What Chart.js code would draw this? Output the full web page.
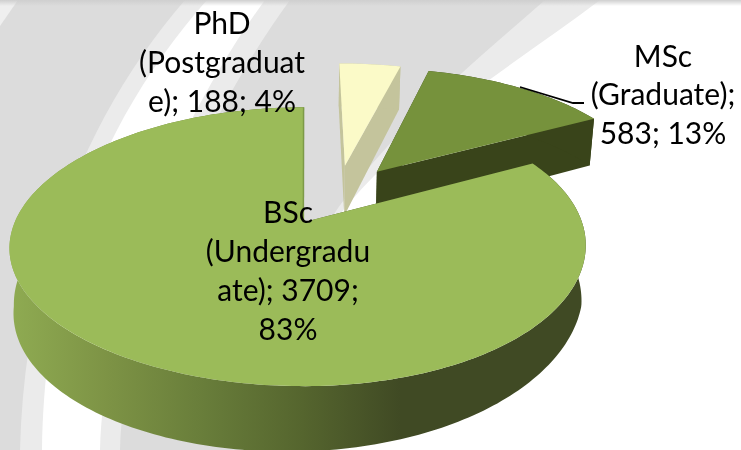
<!DOCTYPE html>
<html>
<head>
<meta charset="utf-8">
<title>Students by degree</title>
<script src="https://cdn.jsdelivr.net/npm/chart.js@4"></script>
<style>
  html, body { margin: 0; padding: 0; background: #fff; }
  #wrap { position: relative; width: 741px; height: 450px; overflow: hidden; }
  #wrap svg, #wrap canvas { position: absolute; left: 0; top: 0; }
</style>
</head>
<body>
<div id="wrap">
  <!-- slide background swooshes -->
  <svg width="741" height="450" viewBox="0 0 741 450">
    <defs>
      <linearGradient id="topStrip" x1="0" y1="0" x2="0" y2="1">
        <stop offset="0" stop-color="#cfcfcf"/><stop offset="1" stop-color="#cfcfcf" stop-opacity="0"/>
      </linearGradient>
    </defs>
    <rect width="741" height="450" fill="#fff"/>
    <path d="M0,0 L207,0 C 110,110 45,250 42,450 L0,450 Z" fill="#ebebeb"/>
    <path d="M0,0 L185,0 C 90,110 25,260 20,450 L0,450 Z" fill="#dcdcdc"/>
    <path d="M0,0 L18,0 L0,26 Z" fill="#efefef"/>
    <path d="M265,0 L600,0 C 470,100 220,230 290,450 L100,450 C 105,300 170,130 265,0 Z" fill="#ebebeb"/>
    <path d="M290,0 L545,0 C 420,110 250,240 270,450 L120,450 C 125,310 195,130 290,0 Z" fill="#dcdcdc"/>
    <rect width="741" height="6" fill="url(#topStrip)"/>
  </svg>
  <canvas id="chart" width="741" height="450"></canvas>
</div>
<script>
var categories = ['PhD (Postgraduate)', 'MSc (Graduate)', 'BSc (Undergraduate)'];
var values = [188, 583, 3709];
var percents = [4, 13, 83];
var labelLines = [
  ['PhD', '(Postgraduat', 'e); ' + values[0] + '; ' + percents[0] + '%'],
  ['MSc', '(Graduate);', values[1] + '; ' + percents[1] + '%'],
  ['BSc', '(Undergradu', 'ate); ' + values[2] + ';', percents[2] + '%']
];
var topColors = ['#fbfac8', '#76923c', '#9bbb59'];
var wallColors = ['#c4c49c', '#39441a', null];

var LABEL_POS = [[222, 24, 39.2], [663, 57, 38.5], [288, 213, 39]];
var SLICE_SCALE = [1.03, 1.03, 1];

// perspective view of the pie plane
var X0 = 303, Y0 = 222, RX = 283.5, RY = 135, PERSP = 0.176, DEPTH = 54;
var SHIFT_U = 0.12, SHIFT_V = -0.208;

function project(u, v, low) {
  var U = u + SHIFT_U, V = v + SHIFT_V;
  var s = 1 / (1 - PERSP * V);
  var x = X0 + RX * U * s - 5 * U * U * (1 + V) + 2;
  var y = Y0 + RY * V * s;
  if (low) {
    // the lower rim leans left towards the front
    x = X0 + (x - X0) * 0.985 - 20 * Math.max(V - 0.2, 0);
    y += DEPTH * s;
  }
  return [x, y];
}

function arcPoints(ox, oy, r, a0, a1, low) {
  var pts = [], n = Math.ceil((a1 - a0) / 0.02);
  for (var i = 0; i <= n; i++) {
    var a = a0 + (a1 - a0) * i / n;
    pts.push(project(ox + r * Math.cos(a), oy + r * Math.sin(a), low));
  }
  return pts;
}

function fillPoly(ctx, pts, color) {
  ctx.beginPath();
  pts.forEach(function (p, i) { i ? ctx.lineTo(p[0], p[1]) : ctx.moveTo(p[0], p[1]); });
  ctx.closePath();
  ctx.fillStyle = color;
  ctx.fill();
}

var pie3d = {
  id: 'pie3d',
  beforeDatasetDraw: function (chart, args) {
    var ctx = chart.ctx;
    var grad = ctx.createLinearGradient(10, 0, 400, 0);
    grad.addColorStop(0, '#8fab52');
    grad.addColorStop(0.25, '#7d9345');
    grad.addColorStop(0.5, '#687d3a');
    grad.addColorStop(0.75, '#55652e');
    grad.addColorStop(1, '#404a24');

    args.meta.data.forEach(function (arc, i) {
      var mid = (arc.startAngle + arc.endAngle) / 2;
      var e = arc.options.offset / arc.outerRadius;
      var ox = e * Math.cos(mid), oy = e * Math.sin(mid);
      var r = SLICE_SCALE[i];
      var top = arcPoints(ox, oy, r, arc.startAngle, arc.endAngle, false);
      var low = arcPoints(ox, oy, r, arc.startAngle, arc.endAngle, true);
      var apexTop = project(ox, oy, false), apexLow = project(ox, oy, true);
      var wall = wallColors[i] || grad;

      // side walls first, the top face covers whatever is behind it
      fillPoly(ctx, [apexTop, top[0], low[0], apexLow], wall);
      fillPoly(ctx, [apexTop, top[top.length - 1], low[low.length - 1], apexLow], wall);
      fillPoly(ctx, top.concat(low.slice().reverse()), wall);
      fillPoly(ctx, [apexTop].concat(top), topColors[i]);

      if (i === 2) {
        var end = top[top.length - 1];
        ctx.beginPath();
        ctx.moveTo(apexTop[0], apexTop[1]);
        ctx.lineTo(end[0], end[1]);
        ctx.strokeStyle = '#7d9a48';
        ctx.lineWidth = 1.5;
        ctx.stroke();
      }
    });
    return false;
  },
  afterDraw: function (chart) {
    var ctx = chart.ctx;
    // leader line for the MSc label
    ctx.beginPath();
    ctx.moveTo(520, 87);
    ctx.lineTo(573, 103);
    ctx.lineTo(584, 103);
    ctx.strokeStyle = '#000';
    ctx.lineWidth = 1.8;
    ctx.stroke();

    ctx.fillStyle = '#000';
    ctx.font = '30px Lato, "Open Sans", sans-serif';
    ctx.textAlign = 'center';
    ctx.textBaseline = 'middle';
    labelLines.forEach(function (lines, i) {
      lines.forEach(function (line, j) {
        ctx.fillText(line, LABEL_POS[i][0], LABEL_POS[i][1] + j * LABEL_POS[i][2]);
      });
    });
  }
};

new Chart(document.getElementById('chart'), {
  type: 'pie',
  data: {
    labels: categories,
    datasets: [{ data: values, backgroundColor: topColors, borderWidth: 0, offset: 49 }]
  },
  options: {
    responsive: false,
    animation: false,
    plugins: { legend: { display: false }, tooltip: { enabled: false } }
  },
  plugins: [pie3d]
});
</script>
</body>
</html>
